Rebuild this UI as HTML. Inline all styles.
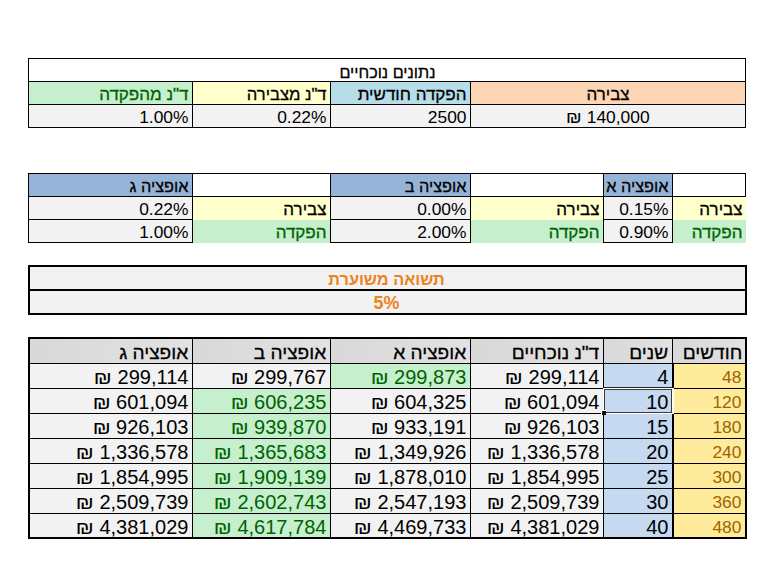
<!DOCTYPE html>
<html lang="he"><head><meta charset="utf-8"><title>נתונים נוכחיים</title>
<style>
html,body{margin:0;padding:0;background:#fff}
body{width:768px;height:580px;position:relative;overflow:hidden;font-family:"Liberation Sans", "DejaVu Sans", sans-serif;color:#000}
.r{position:absolute}
.t{position:absolute;box-sizing:border-box;white-space:nowrap;direction:rtl;unicode-bidi:plaintext}
.d1{font-size:17.4px}
.h1{font-size:17.0px}
.ti{font-size:16.2px}
.ho{font-size:16.3px}
.d2{font-size:20.0px}
.h2{font-size:19.1px}
.d3{font-size:17.4px}
.oh{font-size:16.3px}
.od{font-size:17.9px}
.s{display:inline-block;font-size:.92em;transform:scaleX(1.15);margin:0 .06em}
.h1,.h2,.ti,.ho{-webkit-text-stroke:.3px}
.g{color:#006100}
.y{color:#9c6500}
.o{color:#ec8220;font-weight:bold}
</style></head><body>
<div class="r" style="left:28px;top:58px;width:718px;height:70px;background:#fff"></div>
<div class="r" style="left:28px;top:81px;width:164px;height:23px;background:#c6efce"></div>
<div class="r" style="left:192px;top:81px;width:138px;height:23px;background:#ffffcc"></div>
<div class="r" style="left:330px;top:81px;width:140px;height:23px;background:#b7dde8"></div>
<div class="r" style="left:470px;top:81px;width:276px;height:23px;background:#fcd5b4"></div>
<div class="r" style="left:28px;top:104px;width:718px;height:23px;background:#f2f2f2"></div>
<div class="t ti " style="left:28px;top:60.5px;width:719px;height:23px;line-height:23px;text-align:center;">נתונים נוכחיים</div>
<div class="t h1 " style="left:470px;top:83.0px;width:276px;height:23px;line-height:23px;text-align:center;">צבירה</div>
<div class="t h1 " style="left:330px;top:83.0px;width:140px;height:23px;line-height:23px;text-align:right;padding-right:3.5px;">הפקדה חודשית</div>
<div class="t h1 " style="left:192px;top:83.0px;width:138px;height:23px;line-height:23px;text-align:right;font-size:16.6px;padding-right:3.5px;">ד"נ מצבירה</div>
<div class="t h1 g" style="left:28px;top:83.0px;width:164px;height:23px;line-height:23px;text-align:right;padding-right:3.5px;">ד"נ מהפקדה</div>
<div class="t d1 " style="left:470px;top:105.5px;width:276px;height:23px;line-height:23px;text-align:center;"><span dir="ltr"><span class="s">₪</span> 140,000</span></div>
<div class="t d1 " style="left:330px;top:105.5px;width:140px;height:23px;line-height:23px;text-align:right;padding-right:3.5px;">2500</div>
<div class="t d1 " style="left:192px;top:105.5px;width:138px;height:23px;line-height:23px;text-align:right;padding-right:3.5px;">0.22%</div>
<div class="t d1 " style="left:28px;top:105.5px;width:164px;height:23px;line-height:23px;text-align:right;padding-right:3.5px;">1.00%</div>
<div class="r" style="left:28px;top:58px;width:718px;height:1px;background:#000"></div>
<div class="r" style="left:28px;top:81px;width:718px;height:1px;background:#000"></div>
<div class="r" style="left:28px;top:104px;width:718px;height:1px;background:#000"></div>
<div class="r" style="left:28px;top:127px;width:718px;height:1px;background:#000"></div>
<div class="r" style="left:28px;top:58px;width:1px;height:70px;background:#000"></div>
<div class="r" style="left:745px;top:58px;width:1px;height:70px;background:#000"></div>
<div class="r" style="left:192px;top:81px;width:1px;height:47px;background:#000"></div>
<div class="r" style="left:330px;top:81px;width:1px;height:47px;background:#000"></div>
<div class="r" style="left:470px;top:81px;width:1px;height:47px;background:#000"></div>
<div class="r" style="left:28px;top:173px;width:718px;height:24px;background:#fff"></div>
<div class="r" style="left:28px;top:173px;width:164px;height:23px;background:#95b3d7"></div>
<div class="r" style="left:28px;top:196px;width:164px;height:46px;background:#f2f2f2"></div>
<div class="r" style="left:330px;top:173px;width:140px;height:23px;background:#95b3d7"></div>
<div class="r" style="left:330px;top:196px;width:140px;height:46px;background:#f2f2f2"></div>
<div class="r" style="left:603px;top:173px;width:69px;height:23px;background:#95b3d7"></div>
<div class="r" style="left:603px;top:196px;width:69px;height:46px;background:#f2f2f2"></div>
<div class="r" style="left:192px;top:196px;width:138px;height:24px;background:#ffffcc"></div>
<div class="r" style="left:192px;top:220px;width:138px;height:23px;background:#c6efce"></div>
<div class="r" style="left:470px;top:196px;width:133px;height:24px;background:#ffffcc"></div>
<div class="r" style="left:470px;top:220px;width:133px;height:23px;background:#c6efce"></div>
<div class="r" style="left:672px;top:196px;width:74px;height:24px;background:#ffffcc"></div>
<div class="r" style="left:672px;top:220px;width:74px;height:23px;background:#c6efce"></div>
<div class="t ho " style="left:28px;top:175.0px;width:164px;height:23px;line-height:23px;text-align:right;padding-right:3.5px;">אופציה ג</div>
<div class="t d1 " style="left:28px;top:197.5px;width:164px;height:23px;line-height:23px;text-align:right;padding-right:3.5px;">0.22%</div>
<div class="t d1 " style="left:28px;top:220.5px;width:164px;height:23px;line-height:23px;text-align:right;padding-right:3.5px;">1.00%</div>
<div class="t ho " style="left:330px;top:175.0px;width:140px;height:23px;line-height:23px;text-align:right;padding-right:3.5px;">אופציה ב</div>
<div class="t d1 " style="left:330px;top:197.5px;width:140px;height:23px;line-height:23px;text-align:right;padding-right:3.5px;">0.00%</div>
<div class="t d1 " style="left:330px;top:220.5px;width:140px;height:23px;line-height:23px;text-align:right;padding-right:3.5px;">2.00%</div>
<div class="t ho " style="left:603px;top:175.0px;width:69px;height:23px;line-height:23px;text-align:right;padding-right:3.5px;">אופציה א</div>
<div class="t d1 " style="left:603px;top:197.5px;width:69px;height:23px;line-height:23px;text-align:right;padding-right:3.5px;">0.15%</div>
<div class="t d1 " style="left:603px;top:220.5px;width:69px;height:23px;line-height:23px;text-align:right;padding-right:3.5px;">0.90%</div>
<div class="t h1 " style="left:192px;top:198.0px;width:138px;height:23px;line-height:23px;text-align:right;padding-right:3.5px;">צבירה</div>
<div class="t h1 g" style="left:192px;top:221.0px;width:138px;height:23px;line-height:23px;text-align:right;padding-right:3.5px;">הפקדה</div>
<div class="t h1 " style="left:470px;top:198.0px;width:133px;height:23px;line-height:23px;text-align:right;padding-right:3.5px;">צבירה</div>
<div class="t h1 g" style="left:470px;top:221.0px;width:133px;height:23px;line-height:23px;text-align:right;padding-right:3.5px;">הפקדה</div>
<div class="t h1 " style="left:672px;top:198.0px;width:74px;height:23px;line-height:23px;text-align:right;padding-right:3.5px;">צבירה</div>
<div class="t h1 g" style="left:672px;top:221.0px;width:74px;height:23px;line-height:23px;text-align:right;padding-right:3.5px;">הפקדה</div>
<div class="r" style="left:28px;top:173px;width:718px;height:1px;background:#000"></div>
<div class="r" style="left:28px;top:196px;width:718px;height:1px;background:#000"></div>
<div class="r" style="left:28px;top:219px;width:165px;height:1px;background:#000"></div>
<div class="r" style="left:28px;top:242px;width:165px;height:1px;background:#000"></div>
<div class="r" style="left:330px;top:219px;width:141px;height:1px;background:#000"></div>
<div class="r" style="left:330px;top:242px;width:141px;height:1px;background:#000"></div>
<div class="r" style="left:603px;top:219px;width:70px;height:1px;background:#000"></div>
<div class="r" style="left:603px;top:242px;width:70px;height:1px;background:#000"></div>
<div class="r" style="left:28px;top:173px;width:1px;height:70px;background:#000"></div>
<div class="r" style="left:745px;top:173px;width:1px;height:24px;background:#000"></div>
<div class="r" style="left:192px;top:173px;width:1px;height:70px;background:#000"></div>
<div class="r" style="left:330px;top:173px;width:1px;height:70px;background:#000"></div>
<div class="r" style="left:470px;top:173px;width:1px;height:70px;background:#000"></div>
<div class="r" style="left:603px;top:173px;width:1px;height:70px;background:#000"></div>
<div class="r" style="left:672px;top:173px;width:1px;height:70px;background:#000"></div>
<div class="r" style="left:28px;top:265px;width:719px;height:50px;background:#f2f2f2"></div>
<div class="t oh o" style="left:27px;top:268.0px;width:719px;height:23px;line-height:23px;text-align:center;">תשואה משוערת</div>
<div class="t od o" style="left:27px;top:292.0px;width:719px;height:23px;line-height:23px;text-align:center;">5%</div>
<div class="r" style="left:28px;top:265px;width:719px;height:2px;background:#000"></div>
<div class="r" style="left:28px;top:289px;width:719px;height:2px;background:#000"></div>
<div class="r" style="left:28px;top:313px;width:719px;height:2px;background:#000"></div>
<div class="r" style="left:28px;top:265px;width:2px;height:50px;background:#000"></div>
<div class="r" style="left:745px;top:265px;width:2px;height:50px;background:#000"></div>
<div class="r" style="left:28px;top:337px;width:719px;height:202px;background:#f2f2f2"></div>
<div class="r" style="left:28px;top:337px;width:164px;height:26px;background:linear-gradient(to right,#d8d8d8,#e2e2e2)"></div>
<div class="r" style="left:192px;top:337px;width:138px;height:26px;background:linear-gradient(to right,#d8d8d8,#e2e2e2)"></div>
<div class="r" style="left:330px;top:337px;width:140px;height:26px;background:linear-gradient(to right,#d8d8d8,#e2e2e2)"></div>
<div class="r" style="left:470px;top:337px;width:133px;height:26px;background:linear-gradient(to right,#d8d8d8,#e2e2e2)"></div>
<div class="r" style="left:603px;top:337px;width:69px;height:26px;background:linear-gradient(to right,#d8d8d8,#e2e2e2)"></div>
<div class="r" style="left:672px;top:337px;width:74px;height:26px;background:linear-gradient(to right,#d8d8d8,#e2e2e2)"></div>
<div class="r" style="left:673px;top:364px;width:73px;height:174px;background:#ffeb9c"></div>
<div class="r" style="left:603px;top:364px;width:69px;height:174px;background:#c5d9f1"></div>
<div class="r" style="left:330px;top:364px;width:140px;height:24px;background:#c6efce"></div>
<div class="r" style="left:192px;top:389px;width:138px;height:149px;background:#c6efce"></div>
<div class="t h2 " style="left:28px;top:340.3px;width:164px;height:25px;line-height:25px;text-align:right;padding-right:3.8px;">אופציה ג</div>
<div class="t h2 " style="left:192px;top:340.3px;width:138px;height:25px;line-height:25px;text-align:right;padding-right:3.8px;">אופציה ב</div>
<div class="t h2 " style="left:330px;top:340.3px;width:140px;height:25px;line-height:25px;text-align:right;padding-right:3.8px;">אופציה א</div>
<div class="t h2 " style="left:470px;top:340.3px;width:133px;height:25px;line-height:25px;text-align:right;padding-right:3.8px;">ד"נ נוכחיים</div>
<div class="t h2 " style="left:603px;top:340.3px;width:69px;height:25px;line-height:25px;text-align:right;padding-right:3.8px;">שנים</div>
<div class="t h2 " style="left:672px;top:340.3px;width:74px;height:25px;line-height:25px;text-align:right;padding-right:3.8px;">חודשים</div>
<div class="t d3 y" style="left:672px;top:365.3px;width:74px;height:25px;line-height:25px;text-align:right;padding-right:4.6px;">48</div>
<div class="t d2 " style="left:603px;top:364.8px;width:69px;height:25px;line-height:25px;text-align:right;padding-right:3.6px;">4</div>
<div class="t d2 " style="left:470px;top:364.8px;width:133px;height:25px;line-height:25px;text-align:right;padding-right:3.6px;"><span dir="ltr"><span class="s">₪</span> 299,114</span></div>
<div class="t d2 g" style="left:330px;top:364.8px;width:140px;height:25px;line-height:25px;text-align:right;padding-right:3.6px;"><span dir="ltr"><span class="s">₪</span> 299,873</span></div>
<div class="t d2 " style="left:192px;top:364.8px;width:138px;height:25px;line-height:25px;text-align:right;padding-right:3.6px;"><span dir="ltr"><span class="s">₪</span> 299,767</span></div>
<div class="t d2 " style="left:28px;top:364.8px;width:164px;height:25px;line-height:25px;text-align:right;padding-right:3.6px;"><span dir="ltr"><span class="s">₪</span> 299,114</span></div>
<div class="t d3 y" style="left:672px;top:390.3px;width:74px;height:25px;line-height:25px;text-align:right;padding-right:4.6px;">120</div>
<div class="t d2 " style="left:603px;top:389.8px;width:69px;height:25px;line-height:25px;text-align:right;padding-right:3.6px;">10</div>
<div class="t d2 " style="left:470px;top:389.8px;width:133px;height:25px;line-height:25px;text-align:right;padding-right:3.6px;"><span dir="ltr"><span class="s">₪</span> 601,094</span></div>
<div class="t d2 " style="left:330px;top:389.8px;width:140px;height:25px;line-height:25px;text-align:right;padding-right:3.6px;"><span dir="ltr"><span class="s">₪</span> 604,325</span></div>
<div class="t d2 g" style="left:192px;top:389.8px;width:138px;height:25px;line-height:25px;text-align:right;padding-right:3.6px;"><span dir="ltr"><span class="s">₪</span> 606,235</span></div>
<div class="t d2 " style="left:28px;top:389.8px;width:164px;height:25px;line-height:25px;text-align:right;padding-right:3.6px;"><span dir="ltr"><span class="s">₪</span> 601,094</span></div>
<div class="t d3 y" style="left:672px;top:415.3px;width:74px;height:25px;line-height:25px;text-align:right;padding-right:4.6px;">180</div>
<div class="t d2 " style="left:603px;top:414.8px;width:69px;height:25px;line-height:25px;text-align:right;padding-right:3.6px;">15</div>
<div class="t d2 " style="left:470px;top:414.8px;width:133px;height:25px;line-height:25px;text-align:right;padding-right:3.6px;"><span dir="ltr"><span class="s">₪</span> 926,103</span></div>
<div class="t d2 " style="left:330px;top:414.8px;width:140px;height:25px;line-height:25px;text-align:right;padding-right:3.6px;"><span dir="ltr"><span class="s">₪</span> 933,191</span></div>
<div class="t d2 g" style="left:192px;top:414.8px;width:138px;height:25px;line-height:25px;text-align:right;padding-right:3.6px;"><span dir="ltr"><span class="s">₪</span> 939,870</span></div>
<div class="t d2 " style="left:28px;top:414.8px;width:164px;height:25px;line-height:25px;text-align:right;padding-right:3.6px;"><span dir="ltr"><span class="s">₪</span> 926,103</span></div>
<div class="t d3 y" style="left:672px;top:440.3px;width:74px;height:25px;line-height:25px;text-align:right;padding-right:4.6px;">240</div>
<div class="t d2 " style="left:603px;top:439.8px;width:69px;height:25px;line-height:25px;text-align:right;padding-right:3.6px;">20</div>
<div class="t d2 " style="left:470px;top:439.8px;width:133px;height:25px;line-height:25px;text-align:right;padding-right:3.6px;"><span dir="ltr"><span class="s">₪</span> 1,336,578</span></div>
<div class="t d2 " style="left:330px;top:439.8px;width:140px;height:25px;line-height:25px;text-align:right;padding-right:3.6px;"><span dir="ltr"><span class="s">₪</span> 1,349,926</span></div>
<div class="t d2 g" style="left:192px;top:439.8px;width:138px;height:25px;line-height:25px;text-align:right;padding-right:3.6px;"><span dir="ltr"><span class="s">₪</span> 1,365,683</span></div>
<div class="t d2 " style="left:28px;top:439.8px;width:164px;height:25px;line-height:25px;text-align:right;padding-right:3.6px;"><span dir="ltr"><span class="s">₪</span> 1,336,578</span></div>
<div class="t d3 y" style="left:672px;top:465.3px;width:74px;height:25px;line-height:25px;text-align:right;padding-right:4.6px;">300</div>
<div class="t d2 " style="left:603px;top:464.8px;width:69px;height:25px;line-height:25px;text-align:right;padding-right:3.6px;">25</div>
<div class="t d2 " style="left:470px;top:464.8px;width:133px;height:25px;line-height:25px;text-align:right;padding-right:3.6px;"><span dir="ltr"><span class="s">₪</span> 1,854,995</span></div>
<div class="t d2 " style="left:330px;top:464.8px;width:140px;height:25px;line-height:25px;text-align:right;padding-right:3.6px;"><span dir="ltr"><span class="s">₪</span> 1,878,010</span></div>
<div class="t d2 g" style="left:192px;top:464.8px;width:138px;height:25px;line-height:25px;text-align:right;padding-right:3.6px;"><span dir="ltr"><span class="s">₪</span> 1,909,139</span></div>
<div class="t d2 " style="left:28px;top:464.8px;width:164px;height:25px;line-height:25px;text-align:right;padding-right:3.6px;"><span dir="ltr"><span class="s">₪</span> 1,854,995</span></div>
<div class="t d3 y" style="left:672px;top:490.3px;width:74px;height:25px;line-height:25px;text-align:right;padding-right:4.6px;">360</div>
<div class="t d2 " style="left:603px;top:489.8px;width:69px;height:25px;line-height:25px;text-align:right;padding-right:3.6px;">30</div>
<div class="t d2 " style="left:470px;top:489.8px;width:133px;height:25px;line-height:25px;text-align:right;padding-right:3.6px;"><span dir="ltr"><span class="s">₪</span> 2,509,739</span></div>
<div class="t d2 " style="left:330px;top:489.8px;width:140px;height:25px;line-height:25px;text-align:right;padding-right:3.6px;"><span dir="ltr"><span class="s">₪</span> 2,547,193</span></div>
<div class="t d2 g" style="left:192px;top:489.8px;width:138px;height:25px;line-height:25px;text-align:right;padding-right:3.6px;"><span dir="ltr"><span class="s">₪</span> 2,602,743</span></div>
<div class="t d2 " style="left:28px;top:489.8px;width:164px;height:25px;line-height:25px;text-align:right;padding-right:3.6px;"><span dir="ltr"><span class="s">₪</span> 2,509,739</span></div>
<div class="t d3 y" style="left:672px;top:515.3px;width:74px;height:25px;line-height:25px;text-align:right;padding-right:4.6px;">480</div>
<div class="t d2 " style="left:603px;top:514.8px;width:69px;height:25px;line-height:25px;text-align:right;padding-right:3.6px;">40</div>
<div class="t d2 " style="left:470px;top:514.8px;width:133px;height:25px;line-height:25px;text-align:right;padding-right:3.6px;"><span dir="ltr"><span class="s">₪</span> 4,381,029</span></div>
<div class="t d2 " style="left:330px;top:514.8px;width:140px;height:25px;line-height:25px;text-align:right;padding-right:3.6px;"><span dir="ltr"><span class="s">₪</span> 4,469,733</span></div>
<div class="t d2 g" style="left:192px;top:514.8px;width:138px;height:25px;line-height:25px;text-align:right;padding-right:3.6px;"><span dir="ltr"><span class="s">₪</span> 4,617,784</span></div>
<div class="t d2 " style="left:28px;top:514.8px;width:164px;height:25px;line-height:25px;text-align:right;padding-right:3.6px;"><span dir="ltr"><span class="s">₪</span> 4,381,029</span></div>
<div class="r" style="left:28px;top:363px;width:717px;height:1px;background:#000"></div>
<div class="r" style="left:28px;top:388px;width:717px;height:1px;background:#000"></div>
<div class="r" style="left:28px;top:413px;width:717px;height:1px;background:#000"></div>
<div class="r" style="left:28px;top:438px;width:717px;height:1px;background:#000"></div>
<div class="r" style="left:28px;top:463px;width:717px;height:1px;background:#000"></div>
<div class="r" style="left:28px;top:488px;width:717px;height:1px;background:#000"></div>
<div class="r" style="left:28px;top:513px;width:717px;height:1px;background:#000"></div>
<div class="r" style="left:192px;top:337px;width:1px;height:202px;background:#000"></div>
<div class="r" style="left:330px;top:337px;width:1px;height:202px;background:#000"></div>
<div class="r" style="left:470px;top:337px;width:1px;height:202px;background:#000"></div>
<div class="r" style="left:603px;top:337px;width:1px;height:202px;background:#000"></div>
<div class="r" style="left:672px;top:337px;width:1px;height:27px;background:#000"></div>
<div class="r" style="left:672px;top:364px;width:2px;height:174px;background:#000"></div>
<div class="r" style="left:28px;top:337px;width:719px;height:2px;background:#000"></div>
<div class="r" style="left:28px;top:537px;width:719px;height:2px;background:#000"></div>
<div class="r" style="left:28px;top:337px;width:2px;height:202px;background:#000"></div>
<div class="r" style="left:745px;top:337px;width:2px;height:202px;background:#000"></div>
<div class="r" style="left:603px;top:387px;width:71px;height:1px;background:#222"></div>
<div class="r" style="left:603px;top:388px;width:71px;height:1px;background:#fff"></div>
<div class="r" style="left:603px;top:413px;width:71px;height:1px;background:#fff"></div>
<div class="r" style="left:603px;top:388px;width:1px;height:26px;background:#fff"></div>
<div class="r" style="left:672px;top:388px;width:2px;height:26px;background:#fff"></div>
<div class="r" style="left:604px;top:389px;width:68px;height:24px;border:1px solid #3a3a3a;box-sizing:border-box"></div>
<div class="r" style="left:601px;top:410px;width:5px;height:5px;background:#fff"></div>
<div class="r" style="left:602px;top:411px;width:4px;height:4px;background:#111"></div>
</body></html>
